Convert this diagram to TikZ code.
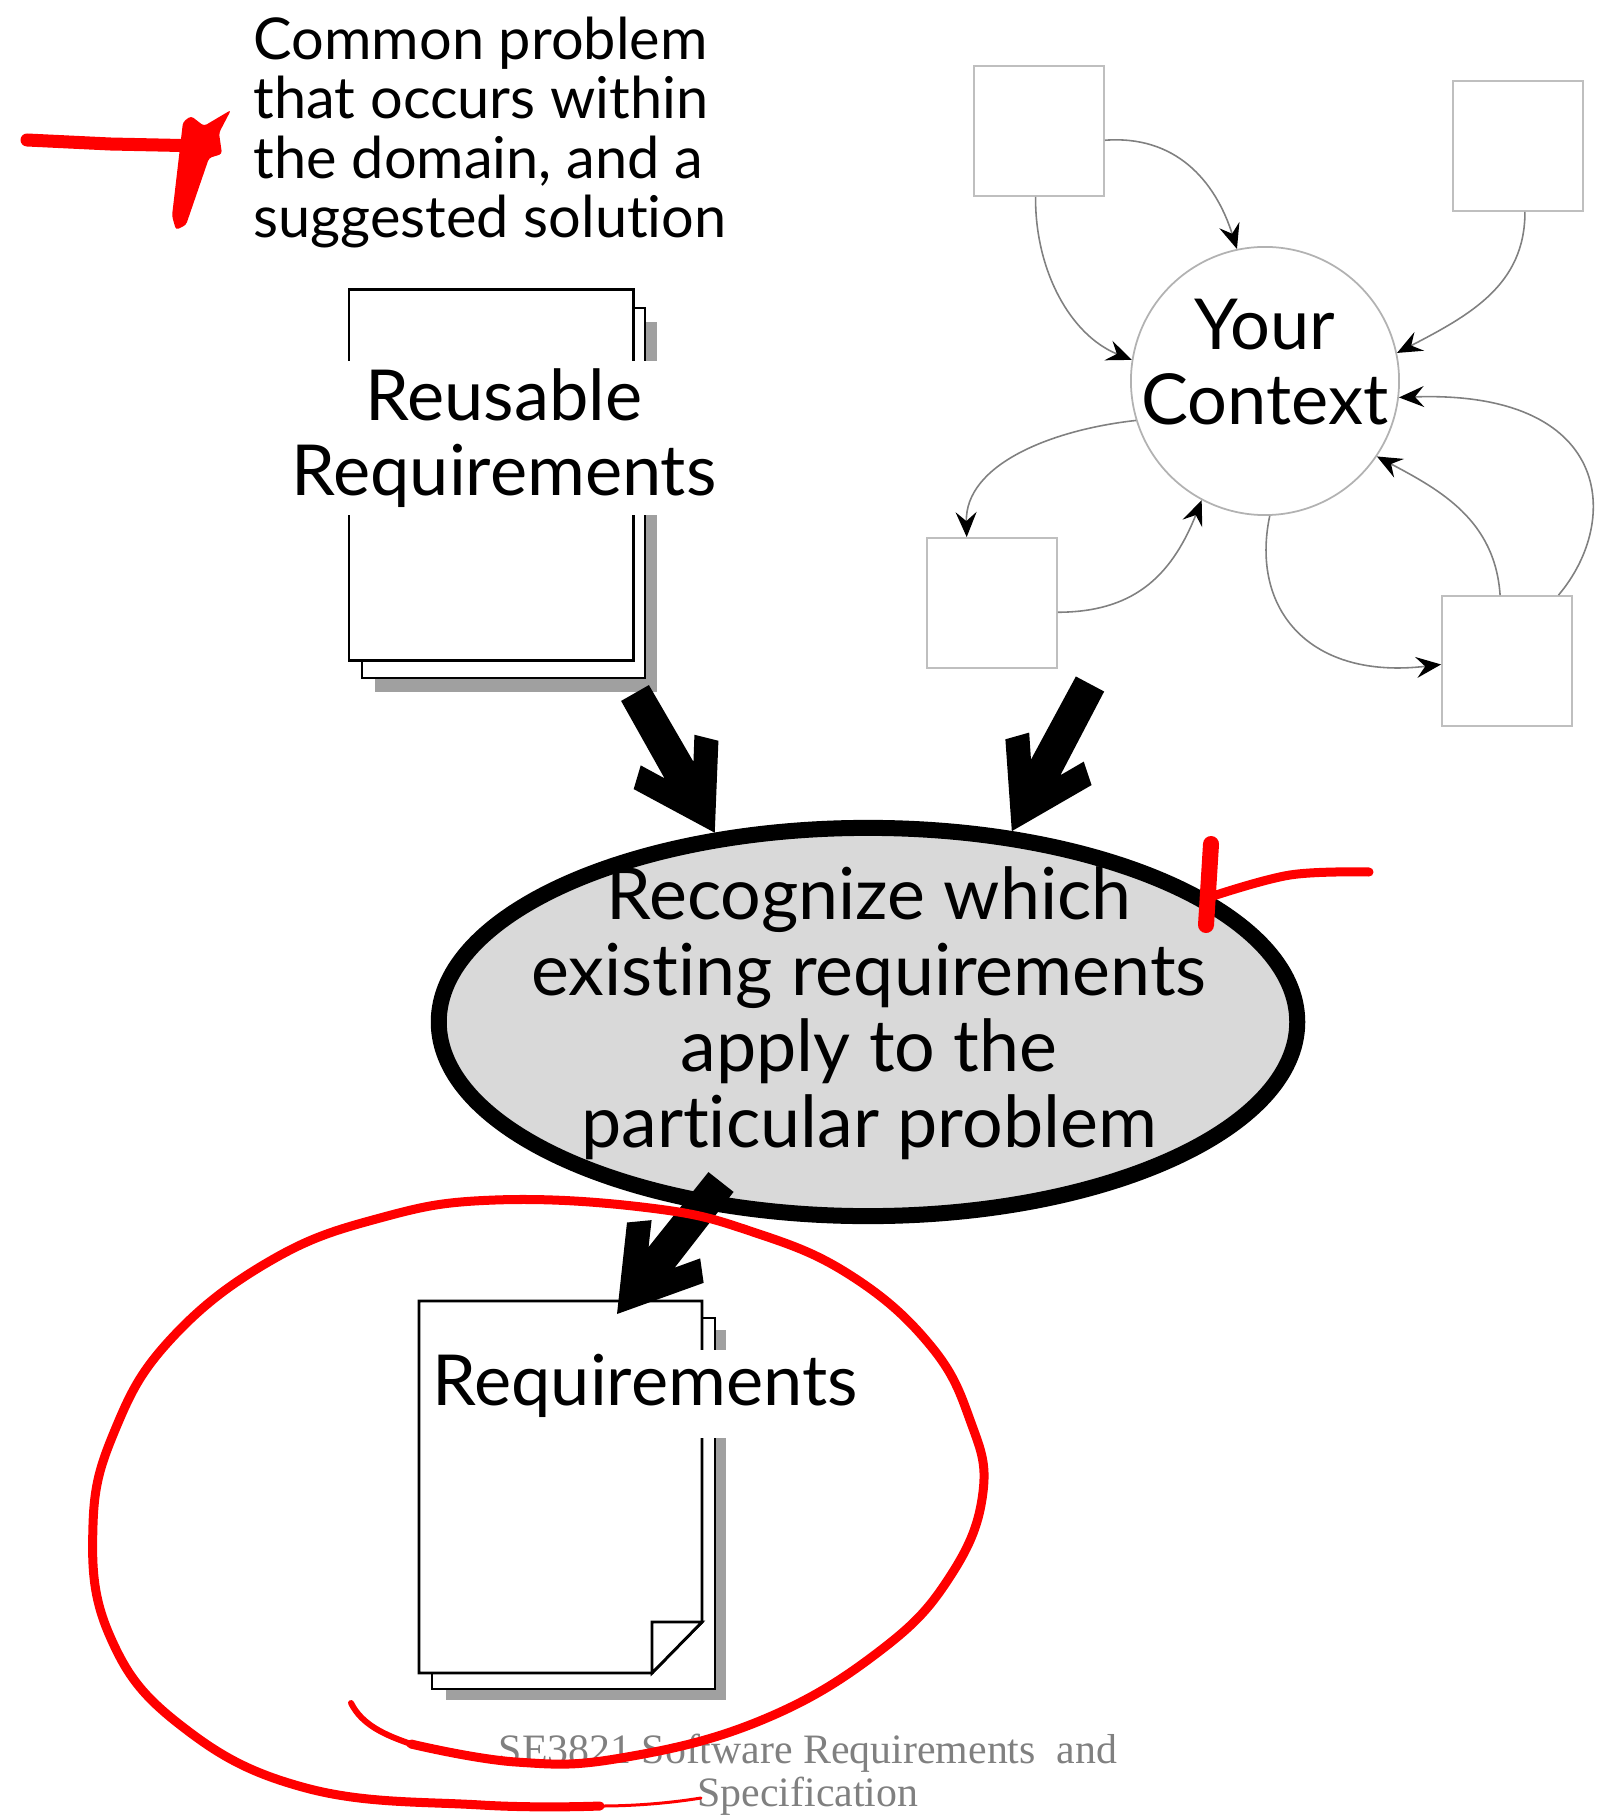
\documentclass[tikz,border=0pt]{standalone}
\usepackage{fontspec}
\usepackage{tikz}
\usetikzlibrary{arrows.meta,calc,shapes.geometric}
\setmainfont[Ligatures=NoCommon]{Lato}
\newfontfamily\footfont{Liberation Serif}
\definecolor{shadowgray}{HTML}{A0A0A0}
\definecolor{ovalgray}{HTML}{D9D9D9}
\definecolor{footgray}{HTML}{808080}
\tikzset{
  boxnode/.style={draw=black!25,line width=0.5pt,rectangle,minimum width=1.3cm,minimum height=1.3cm,inner sep=0pt},
  ctxline/.style={draw=black!50,line width=0.45pt,-{Stealth[length=2.5mm,width=2.1mm,inset=0.9mm,black]}},
  pageline/.style={draw=black,line width=0.8pt,fill=white},
  bigtext/.style={font=\fontsize{20}{21.4}\selectfont,align=center,inner sep=0pt},
  foottext/.style={text=footgray,font=\footfont\fontsize{11.9}{14}\selectfont,inner sep=0pt},
  redline/.style={draw=red,line cap=round,line join=round}
}
\newcommand{\fatarrow}[2]{
  \fill[black] ($(#1)!0.16cm!-90:(#2)$) -- ($(#2)!0.74cm!13:(#1)$) -- ($(#2)!1cm!18:(#1)$) -- ($(#2)!0.92cm!32:(#1)$)
  -- (#2) -- ($(#2)!0.92cm!-32:(#1)$) -- ($(#2)!1cm!-18:(#1)$) -- ($(#2)!0.74cm!-13:(#1)$) -- ($(#1)!0.16cm!90:(#2)$) -- cycle;
}
\begin{document}
\begin{tikzpicture}[x=0.01cm,y=-0.01cm]
\useasboundingbox (0,0) rectangle (1600,1816);

\node[anchor=north west,inner sep=0pt,align=left,font=\fontsize{16.4}{16.9}\selectfont] (nodeProblem) at (253,16)
  {Common problem\\that occurs within\\the domain, and a\\suggested solution};

\path[fill=shadowgray] (375,322) rectangle (657,692);
\path[pageline] (362,308) rectangle (645,678);
\node[pageline,rectangle,minimum width=2.84cm,minimum height=3.7cm,inner sep=0pt] (nodeReuse) at (491,475) {};
\node[bigtext,fill=white,minimum height=1.53cm,text width=4.3cm] (nodeReuseText) at (504,438) {Reusable\\Requirements};

\node[boxnode] (nodeBoxA) at (1039,131) {};
\node[boxnode] (nodeBoxB) at (1518,146) {};
\node[boxnode] (nodeBoxC) at (992,603) {};
\node[boxnode] (nodeBoxD) at (1507,661) {};
\node[draw=black!30,line width=0.5pt,circle,minimum size=2.68cm,inner sep=0pt] (nodeContext) at (1265,381) {};
\node[bigtext] (nodeContextText) at (1265,362) {Your\\Context};

\draw[ctxline] (nodeBoxA.352) .. controls (1175,135) and (1215,180) .. (nodeContext.102);
\draw[ctxline] (nodeBoxA.267) .. controls (1035,270) and (1070,335) .. (nodeContext.171);
\draw[ctxline] (nodeBoxB.276) .. controls (1525,285) and (1470,315) .. (nodeContext.12);
\draw[ctxline] (nodeContext.197) .. controls (1050,430) and (965,465) .. (nodeBoxC.111);
\draw[ctxline] (nodeBoxC.352) .. controls (1130,612) and (1170,580) .. (nodeContext.242);
\draw[ctxline] (nodeContext.272) .. controls (1250,610) and (1310,680) .. (nodeBoxD.183);
\draw[ctxline] (nodeBoxD.96) .. controls (1495,520) and (1440,490) .. (nodeContext.326);
\draw[ctxline] (nodeBoxD.52) .. controls (1622,520) and (1612,390) .. (nodeContext.353);

\node[ellipse,draw=black,line width=0.16cm,fill=ovalgray,minimum width=8.58cm,minimum height=3.88cm,inner sep=0pt] (nodeRecognize) at (868,1022) {};
\node[align=center,inner sep=0pt,font=\fontsize{20.4}{21.6}\selectfont] (nodeRecognizeText) at (869,1013)
  {Recognize which\\existing requirements\\apply to the\\particular problem};

\coordinate (tailReuse) at (635,693);
\coordinate (tailContext) at (1090,684);
\coordinate (tailRecognize) at (721,1182);
\coordinate (tipReq) at (617,1314);
\fatarrow{tailReuse}{nodeRecognize.129}
\fatarrow{tailContext}{nodeRecognize.53}

\path[fill=shadowgray] (446,1330) rectangle (726,1700);
\path[pageline] (432,1318) rectangle (715,1689);
\path[pageline] (419,1301) -- (702,1301) -- (702,1622) -- (652,1673) -- (419,1673) -- cycle;
\path[pageline] (652,1622) -- (702,1622) -- (652,1673) -- cycle;
\path[fill=white] (425,1350) rectangle (865,1438);
\node[bigtext] (nodeReq) at (645,1386) {Requirements};
\fatarrow{tailRecognize}{tipReq}

\node[foottext] (nodeFootA) at (808,1753) {SE3821 Software Requirements\ \ and};
\node[foottext] (nodeFootB) at (808,1796) {Specification};

\draw[redline,line width=0.09cm] plot[smooth,tension=0.7] coordinates {(411,1744) (516,1762) (621,1758) (762,1720) (881,1650) (951,1575) (983,1492) (970,1420) (930,1345) (850,1275) (753,1232) (650,1208) (495,1200) (380,1218) (270,1261) (170,1340) (115,1430) (93,1525) (109,1634) (179,1724) (306,1788) (481,1805) (600,1806)};
\draw[redline,line width=0.06cm] (351,1703) .. controls (362,1725) and (385,1735) .. (411,1744);
\draw[redline,line width=0.03cm] (600,1806) .. controls (635,1806) and (670,1803) .. (701,1798);

\draw[redline,line width=0.13cm] (27,140) -- (110,144) -- (205,146);
\fill[red,rounded corners=0.03cm] (191,116) -- (204,126) -- (231,110) -- (219,133) -- (222,154) -- (209,158) -- (186,225) -- (176,230) -- (172,216) -- (183,122) -- cycle;
\draw[redline,line width=0.16cm] (1211,844) -- (1206,925);
\draw[redline,line width=0.09cm] plot[smooth,tension=0.6] coordinates {(1210,897) (1290,875) (1369,872)};
\end{tikzpicture}
\end{document}
